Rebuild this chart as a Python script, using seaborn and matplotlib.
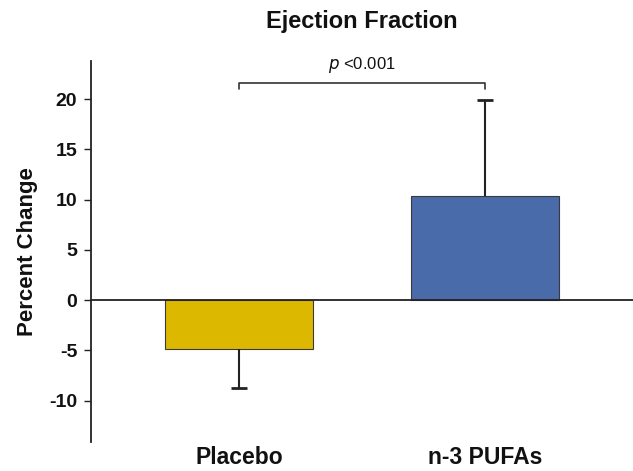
import matplotlib
matplotlib.use("Agg")
import matplotlib.pyplot as plt
import seaborn as sns
import pandas as pd

groups = ["Placebo", "n-3 PUFAs"]
values = [-4.9, 10.4]
err_low = [3.8, 0.0]
err_high = [0.0, 9.5]
colors = ["#DDB800", "#4A6BAA"]
yticks = [-10, -5, 0, 5, 10, 15, 20]

sns.set_style("white")
plt.rcParams['font.family'] = ['Liberation Sans', 'DejaVu Sans']
plt.rcParams['text.color'] = '#111111'
plt.rcParams['xtick.color'] = '#111111'
plt.rcParams['ytick.color'] = '#111111'
plt.rcParams['axes.labelcolor'] = '#111111'

fig = plt.figure(figsize=(6.33, 4.71), dpi=100)
ax = fig.add_axes([0.1438, 0.0616, 0.8562, 0.809])

df = pd.DataFrame({"group": groups, "value": values})
sns.barplot(data=df, x="group", y="value", hue="group", palette=colors,
            saturation=1, width=0.6, edgecolor="#3a3a3a", linewidth=0.8,
            legend=False, errorbar=None, ax=ax)

# one-sided error bars
for i, (v, lo, hi) in enumerate(zip(values, err_low, err_high)):
    if lo > 0:
        ax.vlines(i, v - lo, v, color="#222222", lw=1.5, zorder=3)
        ax.plot([i], [v - lo], marker="_", ms=12, mew=2, color="#222222", zorder=3)
    if hi > 0:
        ax.vlines(i, v, v + hi, color="#222222", lw=1.5, zorder=3)
        ax.plot([i], [v + hi], marker="_", ms=12, mew=2, color="#222222", zorder=3)

ax.axhline(0, color="#222222", lw=1.3, zorder=4)
ax.set_xlim(-0.6, 1.6)
ax.set_ylim(-14.1, 23.8)
ax.set_yticks(yticks)
ax.set_yticklabels([str(t) for t in yticks], fontweight="bold", fontsize=14)
ax.set_xticks([0, 1])
ax.set_xticklabels(groups, fontweight="bold", fontsize=16.5)
ax.tick_params(axis="x", length=0, pad=3)
ax.tick_params(axis="y", direction="out", length=5, width=1, color="#222222", left=True, pad=5)
for s in ["top", "right", "bottom"]:
    ax.spines[s].set_visible(False)
ax.spines["left"].set_color("#222222")
ax.spines["left"].set_linewidth(1.3)
ax.set_xlabel("")
ax.set_ylabel("Percent Change", fontweight="bold", fontsize=16, labelpad=8)
ax.set_title("Ejection Fraction", fontweight="bold", fontsize=17, pad=24)

# significance bracket
by = 21.6
ax.plot([0, 0, 1, 1], [by - 0.6, by, by, by - 0.6], color="#333333", lw=1.2, clip_on=False)
ax.text(0.5, by + 0.8, r"$\it{p}$ <0.001", ha="center", va="bottom", fontsize=12)

fig.savefig("out.png", dpi=100)
